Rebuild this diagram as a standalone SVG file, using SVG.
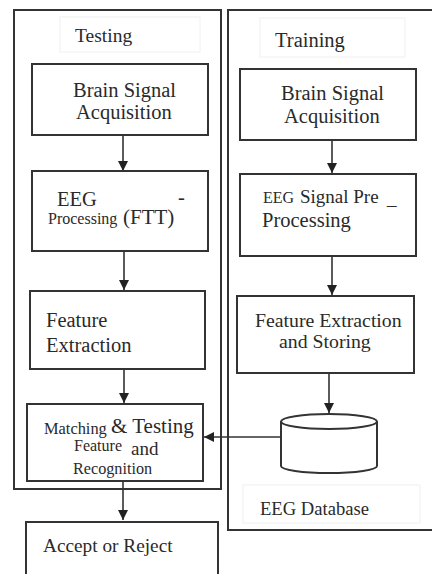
<svg xmlns="http://www.w3.org/2000/svg" width="432" height="574" viewBox="0 0 432 574">
<defs>
<style>
.frame{fill:none;stroke:#333;stroke-width:2}
.box{fill:#fff;stroke:#333;stroke-width:2}
.lbl{fill:#fff;stroke:#f0f0f0;stroke-width:1}
.t{font-family:"Liberation Serif","Times New Roman",serif;fill:#2a2a2a}
.wire{fill:none;stroke:#333;stroke-width:1.6}
</style>
<marker id="ah" viewBox="0 0 10 10" refX="10" refY="5" markerWidth="10" markerHeight="10" markerUnits="userSpaceOnUse" orient="auto">
<path d="M0,0 L10,5 L0,10 Z" fill="#222"/>
</marker>
</defs>
<rect width="432" height="574" fill="#fff"/>

<g id="testing-frame">
<rect class="frame" x="14" y="10" width="207" height="479"/>
<rect class="lbl" x="60" y="17" width="140" height="35"/>
<text class="t" x="75" y="42" font-size="19.5">Testing</text>
</g>

<g id="training-frame">
<rect class="frame" x="228" y="10" width="215" height="520"/>
<rect class="lbl" x="260" y="18" width="145" height="39"/>
<text class="t" x="275" y="47" font-size="20.5">Training</text>
</g>

<g id="connectors">
<line class="wire" x1="123" y1="135" x2="123" y2="171" marker-end="url(#ah)"/>
<line class="wire" x1="124" y1="251" x2="124" y2="290" marker-end="url(#ah)"/>
<line class="wire" x1="124" y1="369" x2="124" y2="403" marker-end="url(#ah)"/>
<line class="wire" x1="123" y1="481" x2="123" y2="520" marker-end="url(#ah)"/>
<line class="wire" x1="332" y1="140" x2="332" y2="173" marker-end="url(#ah)"/>
<line class="wire" x1="332" y1="256" x2="332" y2="295" marker-end="url(#ah)"/>
<line class="wire" x1="329" y1="373" x2="329" y2="413" marker-end="url(#ah)"/>
<line class="wire" x1="281" y1="437" x2="204" y2="437" marker-end="url(#ah)"/>
</g>

<g id="test-acq">
<rect class="box" x="32" y="64" width="176" height="71"/>
<text class="t" x="73" y="97" font-size="20.5">Brain Signal</text>
<text class="t" x="76" y="119" font-size="20.5">Acquisition</text>
</g>

<g id="test-pre">
<rect class="box" x="32" y="171" width="176" height="80"/>
<text class="t" x="57" y="206" font-size="20.5">EEG</text>
<text class="t" x="178" y="204" font-size="20.5">-</text>
<text class="t" x="48" y="224" font-size="16">Processing</text>
<text class="t" x="123" y="224" font-size="21">(FTT)</text>
</g>

<g id="test-feat">
<rect class="box" x="30" y="291" width="175" height="78"/>
<text class="t" x="46" y="327" font-size="20.5">Feature</text>
<text class="t" x="46" y="352" font-size="20.5">Extraction</text>
</g>

<g id="test-match">
<rect class="box" x="27" y="404" width="176" height="77"/>
<text class="t" x="44" y="434" font-size="16.4">Matching</text>
<text class="t" x="111" y="433" font-size="21">&amp; Testing</text>
<text class="t" x="74" y="451" font-size="16">Feature</text>
<text class="t" x="131" y="455" font-size="19">and</text>
<text class="t" x="73" y="474" font-size="16.2">Recognition</text>
</g>

<g id="accept">
<rect class="box" x="26" y="522" width="192" height="60"/>
<text class="t" x="43" y="552" font-size="19.3">Accept or Reject</text>
</g>

<g id="train-acq">
<rect class="box" x="240" y="69" width="176" height="71"/>
<text class="t" x="281" y="100" font-size="20.5">Brain Signal</text>
<text class="t" x="284" y="123" font-size="20.5">Acquisition</text>
</g>

<g id="train-pre">
<rect class="box" x="240" y="174" width="176" height="82"/>
<text class="t" x="263" y="203" font-size="16">EEG</text>
<text class="t" x="300" y="203" font-size="19">Signal Pre</text>
<text class="t" x="387" y="205" font-size="19">_</text>
<text class="t" x="262" y="227" font-size="20.5">Processing</text>
</g>

<g id="train-feat">
<rect class="box" x="237" y="296" width="177" height="77"/>
<text class="t" x="255" y="327" font-size="19.8">Feature Extraction</text>
<text class="t" x="279" y="348" font-size="19.8">and Storing</text>
</g>

<g id="database">
<path class="box" d="M281,421.5 L281,466 A48,7 0 0 0 377,466 L377,421.5"/>
<ellipse class="box" cx="329" cy="421.5" rx="48" ry="7.5"/>
<rect class="lbl" x="243" y="485" width="177" height="38"/>
<text class="t" x="260" y="515" font-size="18.6">EEG Database</text>
</g>
</svg>
